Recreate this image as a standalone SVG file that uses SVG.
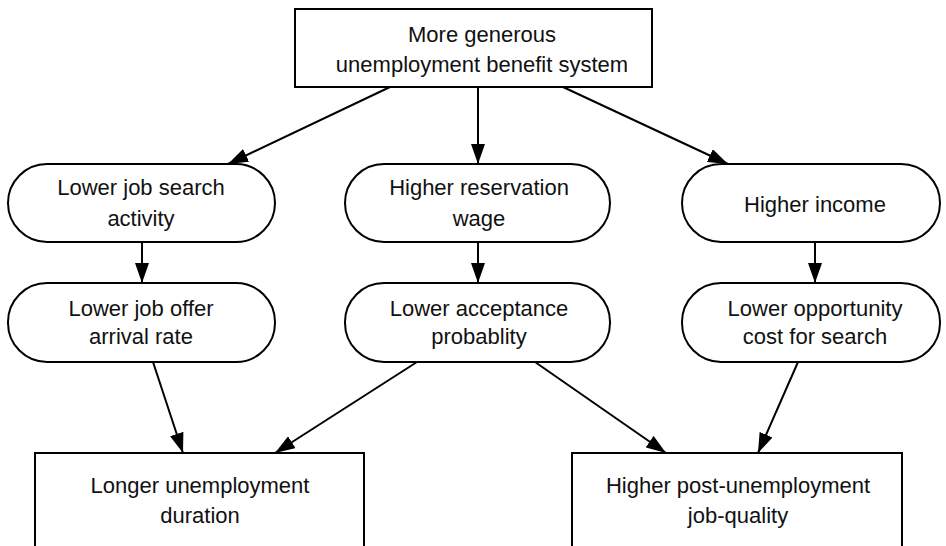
<svg xmlns="http://www.w3.org/2000/svg" width="946" height="546" viewBox="0 0 946 546">
<defs>
<marker id="arr" markerUnits="userSpaceOnUse" markerWidth="20" markerHeight="14" refX="20" refY="7" orient="auto">
<path d="M0,0 L20,7 L0,14 Z" fill="#000"/>
</marker>
<style>
.box{fill:#fff;stroke:#000;stroke-width:2}
.t{font-family:"Liberation Sans",Arial,sans-serif;font-size:22px;fill:#111;text-anchor:middle}
.c{stroke:#000;stroke-width:2;fill:none;marker-end:url(#arr)}
</style>
</defs>
<rect width="946" height="546" fill="#fff"/>
<g id="connectors">
<line class="c" x1="390" y1="87" x2="228" y2="164"/>
<line class="c" x1="478" y1="87" x2="478" y2="164"/>
<line class="c" x1="563" y1="87" x2="728" y2="164"/>
<line class="c" x1="142" y1="242" x2="142" y2="283"/>
<line class="c" x1="478" y1="242" x2="478" y2="283"/>
<line class="c" x1="815" y1="242" x2="815" y2="283"/>
<line class="c" x1="153" y1="362" x2="183" y2="453"/>
<line class="c" x1="417" y1="362" x2="275" y2="453"/>
<line class="c" x1="535" y1="362" x2="666" y2="453"/>
<line class="c" x1="798" y1="362" x2="758" y2="453"/>
</g>
<g id="top">
<rect class="box" x="295" y="9" width="357" height="78"/>
<text class="t" x="482" y="42">More generous</text>
<text class="t" x="482" y="72">unemployment benefit system</text>
</g>
<g id="search">
<rect class="box" x="8" y="164" width="267" height="78" rx="39"/>
<text class="t" x="141" y="195">Lower job search</text>
<text class="t" x="141" y="226">activity</text>
</g>
<g id="reservation">
<rect class="box" x="345" y="164" width="265" height="78" rx="39"/>
<text class="t" x="479" y="195">Higher reservation</text>
<text class="t" x="479" y="226">wage</text>
</g>
<g id="income">
<rect class="box" x="682" y="164" width="258" height="78" rx="39"/>
<text class="t" x="815" y="212">Higher income</text>
</g>
<g id="offer">
<rect class="box" x="8" y="283" width="267" height="79" rx="39"/>
<text class="t" x="141" y="316">Lower job offer</text>
<text class="t" x="141" y="344">arrival rate</text>
</g>
<g id="acceptance">
<rect class="box" x="345" y="283" width="265" height="79" rx="39"/>
<text class="t" x="479" y="316">Lower acceptance</text>
<text class="t" x="479" y="344">probablity</text>
</g>
<g id="opportunity">
<rect class="box" x="682" y="283" width="258" height="79" rx="39"/>
<text class="t" x="815" y="316">Lower opportunity</text>
<text class="t" x="815" y="344">cost for search</text>
</g>
<g id="duration">
<rect class="box" x="35" y="453" width="329" height="110"/>
<text class="t" x="200" y="493">Longer unemployment</text>
<text class="t" x="200" y="523">duration</text>
</g>
<g id="quality">
<rect class="box" x="572" y="453" width="330" height="110"/>
<text class="t" x="738" y="493">Higher post-unemployment</text>
<text class="t" x="738" y="523">job-quality</text>
</g>
</svg>
